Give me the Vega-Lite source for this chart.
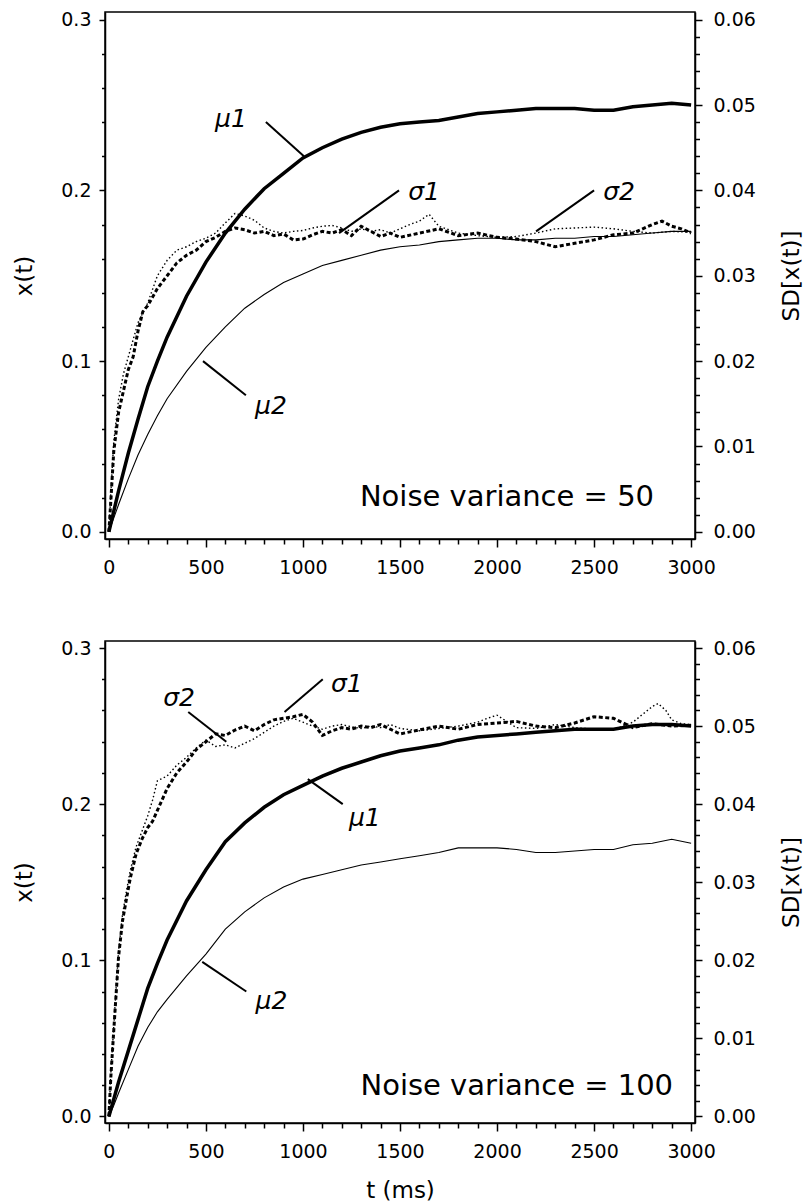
{
  "$schema": "https://vega.github.io/schema/vega-lite/v6.json",
  "background": "white",
  "padding": {"left": 13, "top": 9, "right": 5, "bottom": 5},
  "spacing": 60,
  "config": {
    "view": {"stroke": "black", "strokeWidth": 1.5},
    "axis": {"domainColor": "black", "tickColor": "black", "labelColor": "black", "titleColor": "black", "labelFont": "DejaVu Sans", "titleFont": "DejaVu Sans", "labelFontSize": 19, "titleFontSize": 23, "titleFontWeight": "normal", "grid": false, "domainWidth": 1.5, "tickWidth": 1.5, "labelFlush": false, "labelOverlap": false},
    "text": {"font": "DejaVu Sans", "color": "black"},
    "line": {"color": "black"},
    "rule": {"color": "black"}
  },
  "datasets": {
    "top_mu1": [{"t":0,"value":0},{"t":25,"value":0.012},{"t":50,"value":0.024},{"t":100,"value":0.046},{"t":150,"value":0.066},{"t":200,"value":0.085},{"t":250,"value":0.1},{"t":300,"value":0.114},{"t":400,"value":0.138},{"t":500,"value":0.158},{"t":600,"value":0.175},{"t":700,"value":0.189},{"t":800,"value":0.201},{"t":900,"value":0.21},{"t":1000,"value":0.219},{"t":1100,"value":0.225},{"t":1200,"value":0.23},{"t":1300,"value":0.234},{"t":1400,"value":0.237},{"t":1500,"value":0.239},{"t":1600,"value":0.24},{"t":1700,"value":0.241},{"t":1800,"value":0.243},{"t":1900,"value":0.245},{"t":2000,"value":0.246},{"t":2100,"value":0.247},{"t":2200,"value":0.248},{"t":2300,"value":0.248},{"t":2400,"value":0.248},{"t":2500,"value":0.247},{"t":2600,"value":0.247},{"t":2700,"value":0.249},{"t":2800,"value":0.25},{"t":2900,"value":0.251},{"t":3000,"value":0.25}],
    "top_mu2": [{"t":0,"value":0},{"t":25,"value":0.008},{"t":50,"value":0.016},{"t":100,"value":0.031},{"t":150,"value":0.045},{"t":200,"value":0.057},{"t":250,"value":0.068},{"t":300,"value":0.078},{"t":400,"value":0.094},{"t":500,"value":0.108},{"t":600,"value":0.12},{"t":700,"value":0.131},{"t":800,"value":0.139},{"t":900,"value":0.146},{"t":1000,"value":0.151},{"t":1100,"value":0.156},{"t":1200,"value":0.159},{"t":1300,"value":0.162},{"t":1400,"value":0.165},{"t":1500,"value":0.167},{"t":1600,"value":0.168},{"t":1700,"value":0.17},{"t":1800,"value":0.171},{"t":1900,"value":0.172},{"t":2000,"value":0.172},{"t":2100,"value":0.171},{"t":2200,"value":0.171},{"t":2300,"value":0.172},{"t":2400,"value":0.172},{"t":2500,"value":0.173},{"t":2600,"value":0.173},{"t":2700,"value":0.174},{"t":2800,"value":0.175},{"t":2900,"value":0.176},{"t":3000,"value":0.176}],
    "top_s1": [{"t":0,"value":0},{"t":10,"value":0.0036},{"t":25,"value":0.0094},{"t":50,"value":0.014},{"t":75,"value":0.0165},{"t":100,"value":0.019},{"t":125,"value":0.0205},{"t":150,"value":0.0235},{"t":175,"value":0.0258},{"t":200,"value":0.0265},{"t":250,"value":0.0285},{"t":300,"value":0.03},{"t":350,"value":0.0315},{"t":400,"value":0.0324},{"t":450,"value":0.033},{"t":500,"value":0.034},{"t":550,"value":0.0345},{"t":600,"value":0.0352},{"t":650,"value":0.0356},{"t":700,"value":0.0354},{"t":750,"value":0.035},{"t":800,"value":0.0352},{"t":850,"value":0.0347},{"t":900,"value":0.0349},{"t":950,"value":0.0342},{"t":1000,"value":0.0343},{"t":1050,"value":0.0348},{"t":1100,"value":0.0352},{"t":1150,"value":0.035},{"t":1200,"value":0.0354},{"t":1250,"value":0.0347},{"t":1300,"value":0.0358},{"t":1350,"value":0.0352},{"t":1400,"value":0.0346},{"t":1450,"value":0.035},{"t":1500,"value":0.0345},{"t":1600,"value":0.035},{"t":1700,"value":0.0355},{"t":1800,"value":0.0347},{"t":1900,"value":0.035},{"t":2000,"value":0.0345},{"t":2100,"value":0.0343},{"t":2200,"value":0.034},{"t":2300,"value":0.0334},{"t":2400,"value":0.0338},{"t":2500,"value":0.0342},{"t":2600,"value":0.0348},{"t":2700,"value":0.035},{"t":2800,"value":0.036},{"t":2850,"value":0.0364},{"t":2900,"value":0.0358},{"t":2950,"value":0.0355},{"t":3000,"value":0.035}],
    "top_s2": [{"t":0,"value":0},{"t":10,"value":0.0045},{"t":25,"value":0.0105},{"t":50,"value":0.0155},{"t":75,"value":0.0185},{"t":100,"value":0.0205},{"t":150,"value":0.0245},{"t":200,"value":0.0268},{"t":250,"value":0.03},{"t":300,"value":0.0318},{"t":350,"value":0.033},{"t":400,"value":0.0334},{"t":450,"value":0.034},{"t":500,"value":0.0344},{"t":550,"value":0.035},{"t":600,"value":0.0362},{"t":650,"value":0.0373},{"t":700,"value":0.037},{"t":750,"value":0.0365},{"t":800,"value":0.0356},{"t":850,"value":0.0352},{"t":900,"value":0.035},{"t":950,"value":0.0352},{"t":1000,"value":0.0353},{"t":1050,"value":0.0356},{"t":1100,"value":0.0358},{"t":1150,"value":0.0359},{"t":1200,"value":0.0356},{"t":1250,"value":0.0352},{"t":1300,"value":0.0355},{"t":1350,"value":0.0352},{"t":1400,"value":0.0354},{"t":1450,"value":0.035},{"t":1500,"value":0.0355},{"t":1550,"value":0.036},{"t":1600,"value":0.0364},{"t":1650,"value":0.0372},{"t":1700,"value":0.0358},{"t":1800,"value":0.035},{"t":1900,"value":0.0347},{"t":2000,"value":0.0345},{"t":2100,"value":0.0346},{"t":2200,"value":0.035},{"t":2300,"value":0.0355},{"t":2400,"value":0.0356},{"t":2500,"value":0.0357},{"t":2600,"value":0.0355},{"t":2700,"value":0.0352},{"t":2800,"value":0.035},{"t":2900,"value":0.0352},{"t":3000,"value":0.0351}],
    "top_leaders": [{"t":809,"value":0.24,"t2":1005,"value2":0.22},{"t":1495,"value":0.2,"t2":1186,"value2":0.175},{"t":2500,"value":0.2,"t2":2201,"value2":0.176},{"t":485,"value":0.1,"t2":706,"value2":0.08}],
    "top_labels": [{"label":"μ1","t":629,"value":0.242},{"label":"σ1","t":1624,"value":0.199},{"label":"σ2","t":2629,"value":0.199},{"label":"μ2","t":835,"value":0.074}],
    "top_note": [{"label":"Noise variance = 50","t":2809,"value":0.0205}],
    "bot_mu1": [{"t":0,"value":0},{"t":25,"value":0.011},{"t":50,"value":0.022},{"t":100,"value":0.042},{"t":150,"value":0.062},{"t":200,"value":0.082},{"t":250,"value":0.098},{"t":300,"value":0.113},{"t":400,"value":0.138},{"t":500,"value":0.158},{"t":600,"value":0.176},{"t":700,"value":0.188},{"t":800,"value":0.198},{"t":900,"value":0.206},{"t":1000,"value":0.212},{"t":1100,"value":0.218},{"t":1200,"value":0.223},{"t":1300,"value":0.227},{"t":1400,"value":0.231},{"t":1500,"value":0.234},{"t":1600,"value":0.236},{"t":1700,"value":0.238},{"t":1800,"value":0.241},{"t":1900,"value":0.243},{"t":2000,"value":0.244},{"t":2100,"value":0.245},{"t":2200,"value":0.246},{"t":2400,"value":0.248},{"t":2600,"value":0.248},{"t":2700,"value":0.25},{"t":2800,"value":0.251},{"t":2900,"value":0.251},{"t":3000,"value":0.25}],
    "bot_mu2": [{"t":0,"value":0},{"t":25,"value":0.007},{"t":50,"value":0.015},{"t":100,"value":0.03},{"t":150,"value":0.045},{"t":200,"value":0.057},{"t":250,"value":0.067},{"t":300,"value":0.075},{"t":400,"value":0.09},{"t":500,"value":0.104},{"t":600,"value":0.12},{"t":700,"value":0.131},{"t":800,"value":0.14},{"t":900,"value":0.147},{"t":1000,"value":0.152},{"t":1100,"value":0.155},{"t":1200,"value":0.158},{"t":1300,"value":0.161},{"t":1400,"value":0.163},{"t":1500,"value":0.165},{"t":1600,"value":0.167},{"t":1700,"value":0.169},{"t":1800,"value":0.172},{"t":1900,"value":0.172},{"t":2000,"value":0.172},{"t":2100,"value":0.171},{"t":2200,"value":0.169},{"t":2300,"value":0.169},{"t":2400,"value":0.17},{"t":2500,"value":0.171},{"t":2600,"value":0.171},{"t":2700,"value":0.174},{"t":2800,"value":0.175},{"t":2900,"value":0.1775},{"t":3000,"value":0.175}],
    "bot_s1": [{"t":0,"value":0},{"t":10,"value":0.005},{"t":20,"value":0.009},{"t":35,"value":0.0148},{"t":50,"value":0.0205},{"t":70,"value":0.025},{"t":90,"value":0.0278},{"t":110,"value":0.0305},{"t":140,"value":0.0336},{"t":170,"value":0.0355},{"t":200,"value":0.037},{"t":225,"value":0.0378},{"t":250,"value":0.0392},{"t":300,"value":0.042},{"t":350,"value":0.044},{"t":400,"value":0.0454},{"t":450,"value":0.047},{"t":500,"value":0.048},{"t":550,"value":0.049},{"t":600,"value":0.0488},{"t":650,"value":0.0495},{"t":700,"value":0.05},{"t":750,"value":0.0494},{"t":800,"value":0.0502},{"t":850,"value":0.0508},{"t":900,"value":0.051},{"t":950,"value":0.0512},{"t":1000,"value":0.0515},{"t":1050,"value":0.0505},{"t":1100,"value":0.0488},{"t":1150,"value":0.0494},{"t":1200,"value":0.0498},{"t":1250,"value":0.0496},{"t":1300,"value":0.05},{"t":1350,"value":0.0498},{"t":1400,"value":0.0502},{"t":1450,"value":0.0496},{"t":1500,"value":0.049},{"t":1600,"value":0.0495},{"t":1700,"value":0.05},{"t":1800,"value":0.0496},{"t":1900,"value":0.0502},{"t":2000,"value":0.0504},{"t":2100,"value":0.0506},{"t":2200,"value":0.05},{"t":2300,"value":0.0498},{"t":2400,"value":0.0504},{"t":2500,"value":0.0512},{"t":2600,"value":0.051},{"t":2700,"value":0.0498},{"t":2800,"value":0.0503},{"t":2900,"value":0.05},{"t":3000,"value":0.0501}],
    "bot_s2": [{"t":0,"value":0},{"t":10,"value":0.0055},{"t":20,"value":0.0095},{"t":35,"value":0.0155},{"t":50,"value":0.0212},{"t":70,"value":0.0258},{"t":90,"value":0.0288},{"t":110,"value":0.0315},{"t":140,"value":0.0345},{"t":170,"value":0.0365},{"t":200,"value":0.0385},{"t":225,"value":0.0405},{"t":250,"value":0.043},{"t":300,"value":0.0436},{"t":350,"value":0.045},{"t":400,"value":0.046},{"t":450,"value":0.0472},{"t":500,"value":0.0482},{"t":550,"value":0.0474},{"t":600,"value":0.0476},{"t":650,"value":0.0472},{"t":700,"value":0.0478},{"t":750,"value":0.0484},{"t":800,"value":0.0492},{"t":850,"value":0.05},{"t":900,"value":0.0506},{"t":950,"value":0.051},{"t":1000,"value":0.0505},{"t":1050,"value":0.05},{"t":1100,"value":0.0496},{"t":1150,"value":0.05},{"t":1200,"value":0.0502},{"t":1250,"value":0.0499},{"t":1300,"value":0.0497},{"t":1350,"value":0.05},{"t":1400,"value":0.0498},{"t":1450,"value":0.0502},{"t":1500,"value":0.0497},{"t":1600,"value":0.0494},{"t":1700,"value":0.0497},{"t":1800,"value":0.05},{"t":1900,"value":0.0505},{"t":1950,"value":0.051},{"t":2000,"value":0.0514},{"t":2050,"value":0.0506},{"t":2100,"value":0.0498},{"t":2200,"value":0.0497},{"t":2300,"value":0.0502},{"t":2400,"value":0.0498},{"t":2500,"value":0.0496},{"t":2600,"value":0.0495},{"t":2700,"value":0.0505},{"t":2750,"value":0.0515},{"t":2800,"value":0.0525},{"t":2830,"value":0.0529},{"t":2870,"value":0.052},{"t":2900,"value":0.0508},{"t":2950,"value":0.0503},{"t":3000,"value":0.0502}],
    "bot_leaders": [{"t":409,"value":0.259,"t2":605,"value2":0.24},{"t":1102,"value":0.28,"t2":905,"value2":0.259},{"t":1205,"value":0.2,"t2":1025,"value2":0.216},{"t":481,"value":0.099,"t2":708,"value2":0.08}],
    "bot_labels": [{"label":"σ2","t":362,"value":0.268},{"label":"σ1","t":1226,"value":0.277},{"label":"μ1","t":1319,"value":0.191},{"label":"μ2","t":838,"value":0.0737}],
    "bot_note": [{"label":"Noise variance = 100","t":2907,"value":0.0192}]
  },
  "vconcat": [
    {
      "width": 590,
      "height": 527,
      "resolve": {"scale": {"y": "independent"}},
      "layer": [
        {
          "layer": [
            {
              "data": {"name": "top_mu1"},
              "mark": {"type": "line", "strokeWidth": 3.5},
              "encoding": {
                "x": {"field": "t", "type": "quantitative", "scale": {"domain": [-20, 3020], "nice": false, "zero": false},
                  "axis": {"title": null, "tickCount": 200, "labelOverlap": false, "labelFlush": false, "values": [0,100,200,300,400,500,600,700,800,900,1000,1100,1200,1300,1400,1500,1600,1700,1800,1900,2000,2100,2200,2300,2400,2500,2600,2700,2800,2900,3000], "format": "d", "labelExpr": "datum.value % 500 === 0 ? datum.label : ''", "tickSize": {"condition": {"test": "datum.value % 500 === 0", "value": 8}, "value": 5}, "labelPadding": 11}},
                "y": {"field": "value", "type": "quantitative", "scale": {"domain": [-0.0042, 0.3045], "nice": false, "zero": false},
                  "axis": {"orient": "left", "title": "x(t)", "tickCount": 200, "labelOverlap": false, "values": [0,0.02,0.04,0.06,0.08,0.1,0.12,0.14,0.16,0.18,0.2,0.22,0.24,0.26,0.28,0.3], "format": ".1f", "labelExpr": "abs(datum.value*10 - round(datum.value*10)) < 0.001 ? datum.label : ''", "tickSize": {"condition": {"test": "abs(datum.value*10 - round(datum.value*10)) < 0.001", "value": 6}, "value": 3.5}, "labelPadding": 8, "titlePadding": 24}}
              }
            },
            {
              "data": {"name": "top_mu2"},
              "mark": {"type": "line", "strokeWidth": 1.1},
              "encoding": {
                "x": {"field": "t", "type": "quantitative"},
                "y": {"field": "value", "type": "quantitative"}
              }
            },
            {
              "data": {"name": "top_leaders"},
              "mark": {"type": "rule", "strokeWidth": 2},
              "encoding": {
                "x": {"field": "t", "type": "quantitative"},
                "x2": {"field": "t2"},
                "y": {"field": "value", "type": "quantitative"},
                "y2": {"field": "value2"}
              }
            },
            {
              "data": {"name": "top_labels"},
              "mark": {"type": "text", "fontSize": 25, "fontStyle": "italic", "align": "center", "baseline": "middle"},
              "encoding": {
                "x": {"field": "t", "type": "quantitative"},
                "y": {"field": "value", "type": "quantitative"},
                "text": {"field": "label"}
              }
            },
            {
              "data": {"name": "top_note"},
              "mark": {"type": "text", "fontSize": 29, "align": "right", "baseline": "middle"},
              "encoding": {
                "x": {"field": "t", "type": "quantitative"},
                "y": {"field": "value", "type": "quantitative"},
                "text": {"field": "label"}
              }
            }
          ]
        },
        {
          "layer": [
            {
              "data": {"name": "top_s1"},
              "mark": {"type": "line", "strokeWidth": 3, "strokeDash": [4, 2.5]},
              "encoding": {
                "x": {"field": "t", "type": "quantitative"},
                "y": {"field": "value", "type": "quantitative", "scale": {"domain": [-0.00084, 0.0609], "nice": false, "zero": false},
                  "axis": {"orient": "right", "title": "SD[x(t)]", "titleAngle": 270, "titleBaseline": "top", "tickCount": 200, "labelOverlap": false, "values": [0,0.002,0.004,0.006,0.008,0.01,0.012,0.014,0.016,0.018,0.02,0.022,0.024,0.026,0.028,0.03,0.032,0.034,0.036,0.038,0.04,0.042,0.044,0.046,0.048,0.05,0.052,0.054,0.056,0.058,0.06], "format": ".2f", "labelExpr": "abs(datum.value*100 - round(datum.value*100)) < 0.001 ? datum.label : ''", "tickSize": {"condition": {"test": "abs(datum.value*100 - round(datum.value*100)) < 0.001", "value": 7}, "value": 4.5}, "labelPadding": 11, "titlePadding": 25}}
              }
            },
            {
              "data": {"name": "top_s2"},
              "mark": {"type": "line", "strokeWidth": 1.4, "strokeDash": [1.5, 2.5]},
              "encoding": {
                "x": {"field": "t", "type": "quantitative"},
                "y": {"field": "value", "type": "quantitative"}
              }
            }
          ]
        }
      ]
    },
    {
      "width": 590,
      "height": 482,
      "resolve": {"scale": {"y": "independent"}},
      "layer": [
        {
          "layer": [
            {
              "data": {"name": "bot_mu1"},
              "mark": {"type": "line", "strokeWidth": 3.5},
              "encoding": {
                "x": {"field": "t", "type": "quantitative", "scale": {"domain": [-20, 3020], "nice": false, "zero": false},
                  "axis": {"title": "t (ms)", "titlePadding": 18, "tickCount": 200, "labelOverlap": false, "labelFlush": false, "values": [0,100,200,300,400,500,600,700,800,900,1000,1100,1200,1300,1400,1500,1600,1700,1800,1900,2000,2100,2200,2300,2400,2500,2600,2700,2800,2900,3000], "format": "d", "labelExpr": "datum.value % 500 === 0 ? datum.label : ''", "tickSize": {"condition": {"test": "datum.value % 500 === 0", "value": 8}, "value": 5}, "labelPadding": 11}},
                "y": {"field": "value", "type": "quantitative", "scale": {"domain": [-0.0042, 0.3045], "nice": false, "zero": false},
                  "axis": {"orient": "left", "title": "x(t)", "tickCount": 200, "labelOverlap": false, "values": [0,0.02,0.04,0.06,0.08,0.1,0.12,0.14,0.16,0.18,0.2,0.22,0.24,0.26,0.28,0.3], "format": ".1f", "labelExpr": "abs(datum.value*10 - round(datum.value*10)) < 0.001 ? datum.label : ''", "tickSize": {"condition": {"test": "abs(datum.value*10 - round(datum.value*10)) < 0.001", "value": 6}, "value": 3.5}, "labelPadding": 8, "titlePadding": 24}}
              }
            },
            {
              "data": {"name": "bot_mu2"},
              "mark": {"type": "line", "strokeWidth": 1.1},
              "encoding": {
                "x": {"field": "t", "type": "quantitative"},
                "y": {"field": "value", "type": "quantitative"}
              }
            },
            {
              "data": {"name": "bot_leaders"},
              "mark": {"type": "rule", "strokeWidth": 2},
              "encoding": {
                "x": {"field": "t", "type": "quantitative"},
                "x2": {"field": "t2"},
                "y": {"field": "value", "type": "quantitative"},
                "y2": {"field": "value2"}
              }
            },
            {
              "data": {"name": "bot_labels"},
              "mark": {"type": "text", "fontSize": 25, "fontStyle": "italic", "align": "center", "baseline": "middle"},
              "encoding": {
                "x": {"field": "t", "type": "quantitative"},
                "y": {"field": "value", "type": "quantitative"},
                "text": {"field": "label"}
              }
            },
            {
              "data": {"name": "bot_note"},
              "mark": {"type": "text", "fontSize": 29, "align": "right", "baseline": "middle"},
              "encoding": {
                "x": {"field": "t", "type": "quantitative"},
                "y": {"field": "value", "type": "quantitative"},
                "text": {"field": "label"}
              }
            }
          ]
        },
        {
          "layer": [
            {
              "data": {"name": "bot_s1"},
              "mark": {"type": "line", "strokeWidth": 3, "strokeDash": [4, 2.5]},
              "encoding": {
                "x": {"field": "t", "type": "quantitative"},
                "y": {"field": "value", "type": "quantitative", "scale": {"domain": [-0.00084, 0.0609], "nice": false, "zero": false},
                  "axis": {"orient": "right", "title": "SD[x(t)]", "titleAngle": 270, "titleBaseline": "top", "tickCount": 200, "labelOverlap": false, "values": [0,0.002,0.004,0.006,0.008,0.01,0.012,0.014,0.016,0.018,0.02,0.022,0.024,0.026,0.028,0.03,0.032,0.034,0.036,0.038,0.04,0.042,0.044,0.046,0.048,0.05,0.052,0.054,0.056,0.058,0.06], "format": ".2f", "labelExpr": "abs(datum.value*100 - round(datum.value*100)) < 0.001 ? datum.label : ''", "tickSize": {"condition": {"test": "abs(datum.value*100 - round(datum.value*100)) < 0.001", "value": 7}, "value": 4.5}, "labelPadding": 11, "titlePadding": 25}}
              }
            },
            {
              "data": {"name": "bot_s2"},
              "mark": {"type": "line", "strokeWidth": 1.4, "strokeDash": [1.5, 2.5]},
              "encoding": {
                "x": {"field": "t", "type": "quantitative"},
                "y": {"field": "value", "type": "quantitative"}
              }
            }
          ]
        }
      ]
    }
  ]
}
